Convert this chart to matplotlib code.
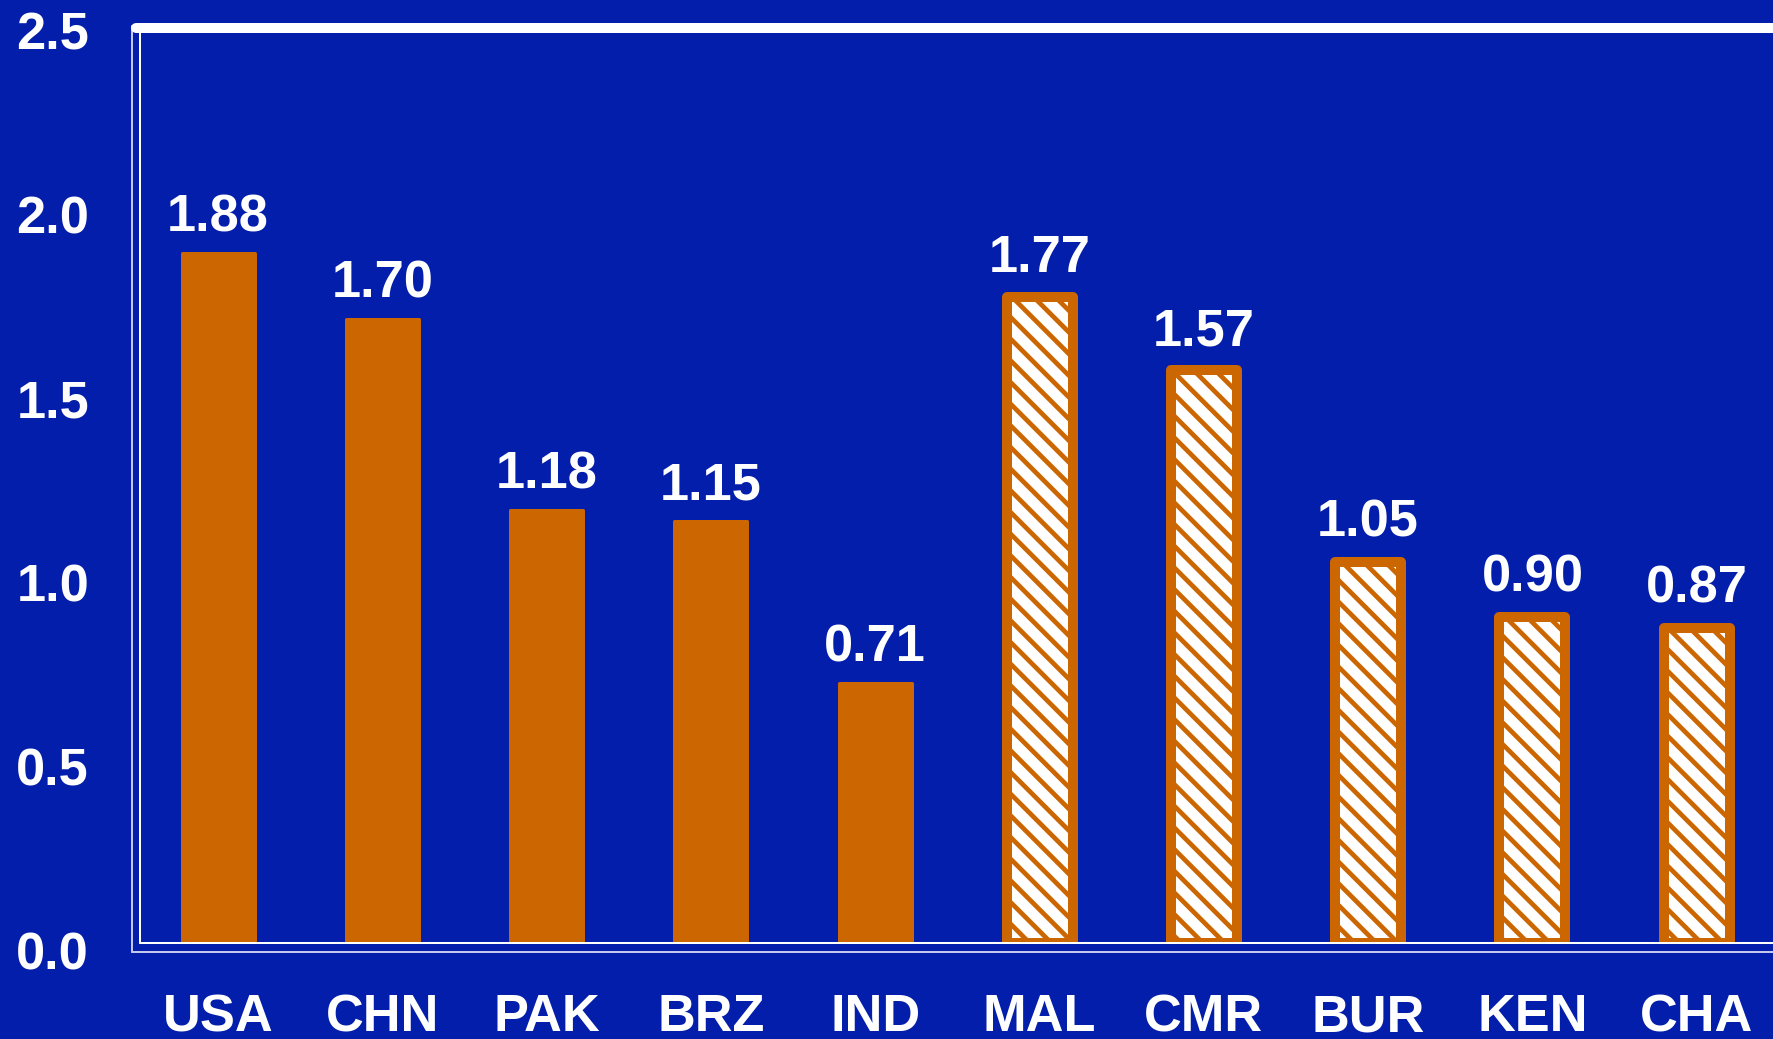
import matplotlib
matplotlib.use("Agg")
import matplotlib.pyplot as plt
from matplotlib.lines import Line2D
from matplotlib.transforms import ScaledTranslation

categories = ["USA", "CHN", "PAK", "BRZ", "IND", "MAL", "CMR", "BUR", "KEN", "CHA"]
values = [1.88, 1.70, 1.18, 1.15, 0.71, 1.77, 1.57, 1.05, 0.90, 0.87]
hatched = [False, False, False, False, False, True, True, True, True, True]
yticks = [0.0, 0.5, 1.0, 1.5, 2.0, 2.5]
ytick_labels = ["0.0", "0.5", "1.0", "1.5", "2.0", "2.5"]

BG = "#021EAA"
ORANGE = "#CC6600"
LAV = "#C4C8EE"

DPI = 130
W, H = 1773, 1039
plt.rcParams["font.family"] = ["Liberation Sans", "DejaVu Sans"]
plt.rcParams["font.weight"] = "bold"
plt.rcParams["hatch.linewidth"] = 2.6

fig = plt.figure(figsize=(W / DPI, H / DPI), dpi=DPI, facecolor=BG)

ax_left_px, ax_bottom_px, ax_top_px = 140, 943, 23
ax = fig.add_axes([ax_left_px / W, (H - ax_bottom_px) / H, (W - ax_left_px) / W,
                   (ax_bottom_px - ax_top_px) / H])
ax.set_facecolor(BG)
for s in ax.spines.values():
    s.set_visible(False)

spacing_px = 164.3
x0_px = 218
ax.set_xlim((ax_left_px - x0_px) / spacing_px, (W - x0_px) / spacing_px)
ax.set_ylim(0, 2.5)

px_x = 1.0 / spacing_px          # data units per pixel in x
px_y = 2.5 / (ax_bottom_px - ax_top_px)  # data units per pixel in y
outer_w = 76 * px_x
lw_h_px = 10
lw_s_px = 3

x = list(range(len(categories)))
for xi, v, h in zip(x, values, hatched):
    if h:
        ax.bar(xi, v - lw_h_px / 2 * px_y, width=outer_w - lw_h_px * px_x, bottom=0,
               color="white", edgecolor=ORANGE, hatch="\\\\",
               linewidth=lw_h_px * 72 / DPI, joinstyle="round", zorder=3)
    else:
        ax.bar(xi, v - lw_s_px / 2 * px_y, width=outer_w - lw_s_px * px_x, bottom=0,
               color=ORANGE, edgecolor=ORANGE,
               linewidth=lw_s_px * 72 / DPI, joinstyle="round", zorder=3)
    ax.annotate(f"{v:.2f}", (xi, v), xytext=(0, 20 * 72 / DPI), textcoords="offset points",
                ha="center", va="baseline", color="white", fontsize=29, fontweight="bold")

ax.set_xticks(x)
ax.set_xticklabels(categories)
ax.set_yticks(yticks)
ax.set_yticklabels(ytick_labels)
ax.tick_params(axis="both", length=0, colors="white", labelsize=29)
ax.tick_params(axis="x", pad=50 * 72 / DPI)
ax.tick_params(axis="y", pad=51 * 72 / DPI)
for lab in ax.get_xticklabels() + ax.get_yticklabels():
    lab.set_fontweight("bold")
off = ScaledTranslation(0, -7.5 / DPI, fig.dpi_scale_trans)
for lab in ax.get_yticklabels():
    lab.set_transform(lab.get_transform() + off)


def fx(px):
    return px / W


def fy(py):
    return 1 - py / H


lines = [
    # outer left line
    ([132, 132], [26, 952], LAV, 2),
    # outer bottom line
    ([132, W], [952, 952], LAV, 2),
    # inner left line
    ([140, 140], [30, 943], "white", 2),
    # inner bottom line
    ([140, W], [943, 943], "white", 2),
    # top thick line
    ([136, W + 10], [28, 28], "white", 10),
]
for xs, ys, c, lw in lines:
    fig.add_artist(Line2D([fx(v) for v in xs], [fy(v) for v in ys], color=c,
                          linewidth=lw * 72 / DPI, solid_capstyle="round",
                          transform=fig.transFigure, zorder=5))

fig.savefig("out.png", dpi=DPI, facecolor=BG)
